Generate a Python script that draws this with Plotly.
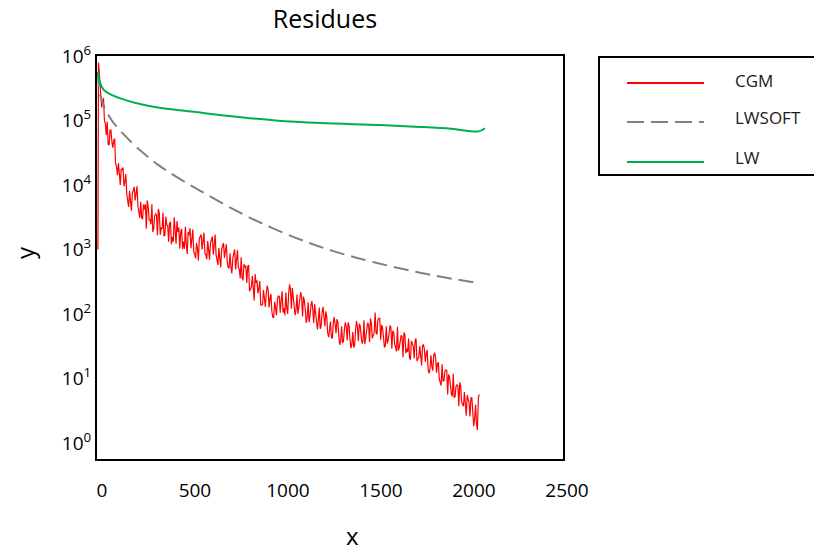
import plotly.graph_objects as go

# ---------------- data ----------------
# CGM residue (log10), sampled every 10 iterations ...
cgm_iter_a = [0, 1, 3, 6] + list(range(10, 2051, 10))
cgm_log10_a = [
    3.00, 5.60, 5.90, 5.80,
    5.62, 5.20, 5.35, 4.95, 4.98, 4.62, 4.85, 4.58, 4.72, 4.28,
    4.34, 4.00, 4.23, 3.98, 4.17, 3.77, 3.91, 3.60, 3.93, 3.76,
    3.98, 3.59, 3.74, 3.47, 3.62, 3.32, 3.67, 3.46, 3.70, 3.33,
    3.55, 3.22, 3.56, 3.33, 3.57, 3.22, 3.38, 3.12, 3.43, 3.19,
    3.50, 3.09, 3.27, 3.01, 3.32, 3.12, 3.35, 2.93, 3.22, 3.02,
    3.31, 2.93, 3.10, 2.83, 3.20, 3.00, 3.26, 2.92, 3.13, 2.84,
    3.17, 2.92, 3.23, 2.83, 3.02, 2.72, 3.05, 2.87, 3.08, 2.72,
    2.94, 2.63, 2.95, 2.69, 2.99, 2.69, 2.88, 2.52, 2.72, 2.48,
    2.76, 2.40, 2.59, 2.21, 2.48, 2.32, 2.51, 2.14, 2.37, 2.11,
    2.44, 2.10, 2.31, 1.95, 2.19, 1.98, 2.28, 2.02, 2.35, 2.09,
    2.33, 2.00, 2.46, 2.08, 2.27, 1.98, 2.30, 2.11, 2.34, 1.96,
    2.20, 1.86, 2.18, 1.96, 2.20, 1.86, 2.04, 1.76, 2.10, 1.81,
    2.11, 1.81, 1.96, 1.64, 1.88, 1.63, 1.95, 1.70, 1.87, 1.52,
    1.81, 1.58, 1.87, 1.59, 1.82, 1.47, 1.72, 1.52, 1.89, 1.58,
    1.81, 1.54, 1.90, 1.65, 1.86, 1.56, 1.85, 1.69, 2.02, 1.68,
    1.93, 1.60, 1.79, 1.48, 1.81, 1.59, 1.82, 1.46, 1.71, 1.47,
    1.80, 1.48, 1.67, 1.33, 1.68, 1.46, 1.62, 1.29, 1.53, 1.31,
    1.62, 1.30, 1.50, 1.20, 1.52, 1.26, 1.44, 1.08, 1.36, 1.12,
    1.40, 1.09, 1.25, 0.91, 1.22, 0.96, 1.13, 0.75, 1.02, 0.76,
    1.07, 0.72, 0.90, 0.57, 0.88, 0.61, 0.79, 0.42, 0.68, 0.41,
    0.70, 0.26, 0.59, 0.20, 0.75,
]
# ... and the in-between samples (iterations 15, 25, ..., 2045)
cgm_iter_b = list(range(15, 2046, 10))
cgm_log10_b = [
    5.55, 5.28, 5.00, 4.77, 4.63, 4.85, 4.67, 4.69, 4.33,
    4.15, 4.19, 4.25, 4.27, 4.05, 3.86, 3.66, 3.70, 3.87, 3.97,
    3.87, 3.67, 3.49, 3.49, 3.70, 3.70, 3.76, 3.46, 3.39, 3.27,
    3.52, 3.53, 3.63, 3.23, 3.32, 3.21, 3.51, 3.37, 3.40, 3.08,
    3.12, 3.23, 3.44, 3.34, 3.27, 3.01, 3.01, 3.08, 3.27, 3.33,
    3.16, 2.96, 2.86, 3.02, 3.17, 3.23, 3.19, 2.94, 2.85, 2.99,
    3.10, 3.20, 3.12, 2.92, 2.76, 2.81, 3.00, 3.10, 3.01, 2.81,
    2.71, 2.73, 2.86, 3.00, 2.90, 2.72, 2.55, 2.57, 2.77, 2.75,
    2.73, 2.35, 2.42, 2.37, 2.62, 2.52, 2.39, 2.14, 2.14, 2.19,
    2.32, 2.37, 2.24, 2.04, 1.94, 2.09, 2.23, 2.27, 2.21, 2.02,
    1.98, 2.10, 2.31, 2.38, 2.40, 2.13, 2.07, 2.00, 2.23, 2.25,
    2.27, 2.05, 1.95, 1.87, 2.13, 2.07, 2.15, 1.85, 1.91, 1.77,
    2.02, 1.96, 2.04, 1.71, 1.75, 1.63, 1.86, 1.84, 1.92, 1.65,
    1.59, 1.55, 1.76, 1.80, 1.87, 1.60, 1.53, 1.48, 1.75, 1.79,
    1.85, 1.66, 1.58, 1.53, 1.80, 1.83, 1.93, 1.62, 1.71, 1.71,
    1.91, 1.93, 1.83, 1.64, 1.51, 1.54, 1.69, 1.79, 1.74, 1.54,
    1.42, 1.43, 1.62, 1.64, 1.71, 1.39, 1.41, 1.32, 1.58, 1.50,
    1.59, 1.27, 1.33, 1.27, 1.51, 1.45, 1.39, 1.13, 1.15, 1.19,
    1.36, 1.32, 1.23, 0.99, 0.89, 0.96, 1.11, 1.13, 1.06, 0.84,
    0.72, 0.70, 0.88, 0.88, 0.94, 0.63, 0.57, 0.48, 0.74, 0.62,
    0.70, 0.38, 0.37, 0.29, 0.70,
]

lwsoft_iter = [0, 16, 70, 140, 230, 320, 420, 550, 730, 915, 1090,
               1270, 1500, 1800, 2040]
lwsoft_log10 = [5.75, 5.35, 5.02, 4.78, 4.53, 4.32, 4.13, 3.91, 3.62,
                3.36, 3.15, 2.97, 2.79, 2.60, 2.48]

lw_iter = [0, 10, 30, 70, 166, 250, 349, 526, 703, 955, 1200, 1518,
           1733, 1900, 2044, 2081]
lw_log10 = [5.75, 5.60, 5.48, 5.40, 5.30, 5.24, 5.19, 5.13, 5.07, 5.00,
            4.96, 4.93, 4.90, 4.87, 4.83, 4.88]

series_names = ["CGM", "LWSOFT", "LW"]
x_ticks = [0, 500, 1000, 1500, 2000, 2500]
y_exponents = [0, 1, 2, 3, 4, 5, 6]

# merge the two CGM sample sets in iteration order
cgm_pairs = sorted(zip(cgm_iter_a + cgm_iter_b, cgm_log10_a + cgm_log10_b),
                   key=lambda p: p[0])
cgm_x = [p[0] for p in cgm_pairs]
cgm_y = [10 ** p[1] for p in cgm_pairs]

# ---------------- styling ----------------
RED = "#ff0000"
GRAY = "#808080"
GREEN = "#00b050"
FONT = "Open Sans"

fig = go.Figure()
fig.add_trace(go.Scatter(x=cgm_x, y=cgm_y, mode="lines", name=series_names[0],
                         line=dict(color=RED, width=1.2)))
fig.add_trace(go.Scatter(x=lwsoft_iter, y=[10 ** v for v in lwsoft_log10],
                         mode="lines", name=series_names[1],
                         line=dict(color=GRAY, width=2, dash="15px,7px",
                                   shape="spline")))
fig.add_trace(go.Scatter(x=lw_iter, y=[10 ** v for v in lw_log10],
                         mode="lines", name=series_names[2],
                         line=dict(color=GREEN, width=2, shape="spline")))

W, H = 814, 551
L, R, T, B = 97, 251, 56, 92
pw, ph = W - L - R, H - T - B


def px(xp):
    return (xp - L) / pw


def py(yp):
    return (H - B - yp) / ph


# manual legend (box, sample lines, labels)
shapes = [dict(type="rect", xref="paper", yref="paper",
               x0=px(599), x1=px(840), y0=py(175), y1=py(57),
               line=dict(color="black", width=2), fillcolor="white")]
legend_line_y = [83, 122, 162]
legend_text_y = [80, 117, 157]
legend_styles = [dict(color=RED, width=2),
                 dict(color=GRAY, width=2, dash="17px,7px"),
                 dict(color=GREEN, width=2)]
annotations = []
for name, ly, ty, st in zip(series_names, legend_line_y, legend_text_y, legend_styles):
    shapes.append(dict(type="line", xref="paper", yref="paper",
                       x0=px(627), x1=px(704), y0=py(ly), y1=py(ly), line=st))
    annotations.append(dict(text=name, xref="paper", yref="paper",
                            x=px(733), y=py(ty), xanchor="left", yanchor="middle",
                            showarrow=False,
                            font=dict(family=FONT, size=17, color="#1a1a1a")))

# axis titles
annotations.append(dict(text="x", xref="paper", yref="paper", x=px(352), y=py(535),
                        xanchor="center", yanchor="middle", showarrow=False,
                        font=dict(family=FONT, size=24, color="black")))
annotations.append(dict(text="y", xref="paper", yref="paper", x=px(25), y=py(253),
                        xanchor="center", yanchor="middle", showarrow=False,
                        textangle=-90,
                        font=dict(family=FONT, size=24, color="black")))

fig.update_layout(
    width=W, height=H,
    margin=dict(l=L, r=R, t=T, b=B, autoexpand=False),
    paper_bgcolor="white", plot_bgcolor="white",
    showlegend=False,
    font=dict(family=FONT, color="black"),
    title=dict(text="Residues", x=px(325), xref="paper", xanchor="center",
               y=1 - 19 / H, yref="container", yanchor="middle",
               font=dict(family=FONT, size=25, color="black")),
    shapes=shapes,
    annotations=annotations,
    xaxis=dict(range=[-5, 2500], tickvals=x_ticks,
               ticktext=[str(t) for t in x_ticks],
               showgrid=False, zeroline=False, ticks="",
               showline=True, mirror=True, linecolor="black", linewidth=2,
               layer="below traces",
               tickfont=dict(family=FONT, size=19, color="black"),
               ticklabelstandoff=13, ticklabelshift=4,
               automargin=False),
    yaxis=dict(type="log", range=[-0.25, 6.0],
               tickvals=[10 ** e for e in y_exponents],
               ticktext=["10<sup>%d</sup>" % e for e in y_exponents],
               showgrid=False, zeroline=False, ticks="",
               showline=True, mirror=True, linecolor="black", linewidth=2,
               layer="below traces",
               tickfont=dict(family=FONT, size=19, color="black"),
               automargin=False),
)

fig.write_html("out.html")
